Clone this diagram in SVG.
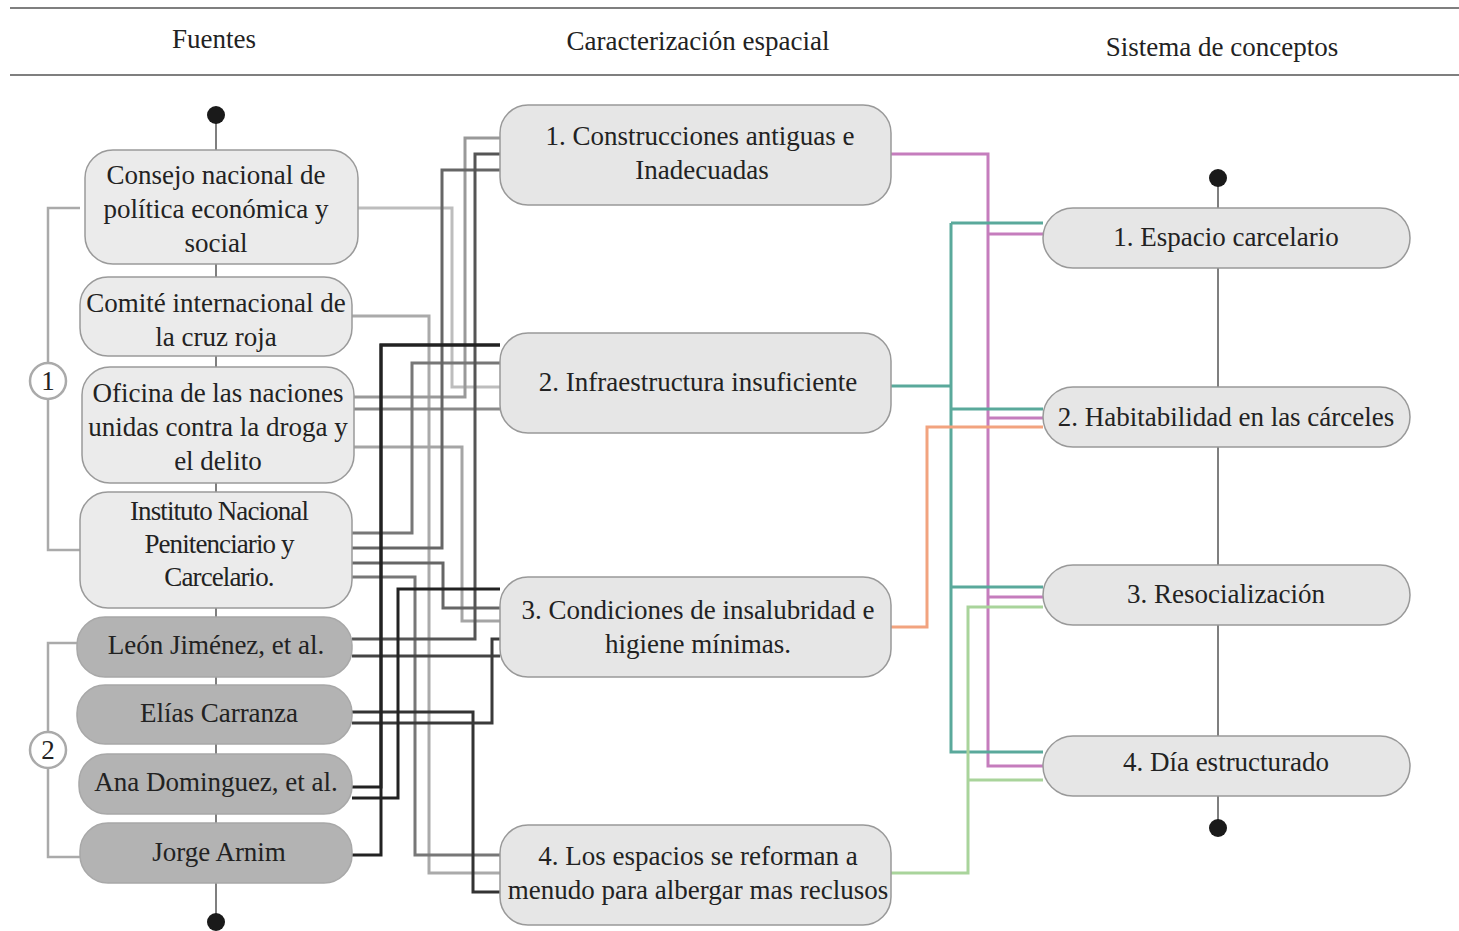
<svg xmlns="http://www.w3.org/2000/svg" width="1459" height="931" viewBox="0 0 1459 931">
<style>
text{font-family:'Liberation Serif','DejaVu Serif',serif;fill:#222;text-anchor:middle}
.h{font-size:27px}
.t{font-size:27px}
.lt{fill:#ebebeb;stroke:#9a9a9a;stroke-width:1.5}
.dk{fill:#b3b3b3;stroke:#a8a8a8;stroke-width:1.5}
.md{fill:#e6e6e6;stroke:#999;stroke-width:1.5}
.c path{fill:none;stroke-width:3}
.br{fill:none;stroke:#aaa;stroke-width:2.5}
</style>
<rect width="1459" height="931" fill="#fff"/>
<g font-family="Liberation Serif, serif">
<g id="header">
<line x1="10" y1="8" x2="1459" y2="8" stroke="#555" stroke-width="1.5"/>
<line x1="10" y1="75" x2="1459" y2="75" stroke="#555" stroke-width="1.5"/>
<text class="h" x="214" y="48">Fuentes</text>
<text class="h" x="698" y="50">Caracterización espacial</text>
<text class="h" x="1222" y="56">Sistema de conceptos</text>
</g>
<g id="spines" stroke="#555" stroke-width="1.5">
<line x1="216" y1="115" x2="216" y2="922"/>
<line x1="1218" y1="178" x2="1218" y2="828"/>
<circle cx="216" cy="115" r="9" fill="#1a1a1a" stroke="none"/>
<circle cx="216" cy="922" r="9" fill="#1a1a1a" stroke="none"/>
<circle cx="1218" cy="178" r="9" fill="#1a1a1a" stroke="none"/>
<circle cx="1218" cy="828" r="9" fill="#1a1a1a" stroke="none"/>
</g>
<g id="group1">
<path class="br" d="M80,208 H48 V363 M48,399 V550 H80"/>
<circle cx="48" cy="381" r="18" fill="#fff" stroke="#aaa" stroke-width="2.5"/>
<text class="t" x="48" y="390">1</text>
</g>
<g id="group2">
<path class="br" d="M77,643 H48 V732 M48,768 V857 H80"/>
<circle cx="48" cy="750" r="18" fill="#fff" stroke="#aaa" stroke-width="2.5"/>
<text class="t" x="48" y="759">2</text>
</g>
<g id="connectors" class="c">
<path stroke="#bdbdbd" stroke-width="2" d="M358,208 H452 V387 H500"/>
<path stroke="#aaa" stroke-width="2.5" d="M352,316 H429 V873 H500"/>
<path stroke="#999" d="M354,397 H465 V138 H500"/>
<path stroke="#8a8a8a" d="M354,409 H500"/>
<path stroke="#a5a5a5" stroke-width="2.5" d="M354,447 H462 V621 H500"/>
<path stroke="#777" d="M352,533 H412 V363 H500"/>
<path stroke="#666" d="M352,548 H442 V170 H500"/>
<path stroke="#666" d="M352,563 H443 V608 H500"/>
<path stroke="#777" d="M352,577 H415 V855 H500"/>
<path stroke="#555" d="M352,639 H475 V154 H500"/>
<path stroke="#444" d="M352,656 H500"/>
<path stroke="#333" d="M352,712 H473 V892 H500"/>
<path stroke="#3a3a3a" d="M352,723 H492 V639 H500"/>
<path stroke="#222" d="M352,787 H381 V345 H500"/>
<path stroke="#222" d="M352,798 H398 V589 H500"/>
<path stroke="#222" d="M352,855 H381 V345 H500"/>
<path stroke="#c57dbd" d="M891,154 H988 V766 H1043 M988,234 H1043 M988,418 H1043 M988,597 H1043"/>
<path stroke="#5aa99b" d="M891,386 H951 M951,223 V752 H1043 M951,223 H1043 M951,409 H1043 M951,587 H1043"/>
<path stroke="#f2a37f" d="M891,627 H927 V427 H1043"/>
<path stroke="#a9d49b" d="M891,873 H968 V607 H1043 M968,780 H1043"/>
</g>
<g id="n-consejo"><rect class="lt" x="85" y="150" width="273" height="114" rx="28"/>
<text class="t" x="216" y="184">Consejo nacional de</text><text class="t" x="216" y="218">política económica y</text><text class="t" x="216" y="252">social</text></g>
<g id="n-comite"><rect class="lt" x="80" y="277" width="272" height="79" rx="28"/>
<text class="t" x="216" y="312">Comité internacional de</text><text class="t" x="216" y="346">la cruz roja</text></g>
<g id="n-oficina"><rect class="lt" x="82" y="367" width="272" height="116" rx="28"/>
<text class="t" x="218" y="402">Oficina de las naciones</text><text class="t" x="218" y="436">unidas contra la droga y</text><text class="t" x="218" y="470">el delito</text></g>
<g id="n-inpec"><rect class="lt" x="80" y="492" width="272" height="116" rx="28"/>
<text class="t" x="219" y="520" letter-spacing="-0.9">Instituto Nacional</text><text class="t" x="219" y="553" letter-spacing="-0.9">Penitenciario y</text><text class="t" x="219" y="586" letter-spacing="-0.9">Carcelario.</text></g>
<g id="n-leon"><rect class="dk" x="77" y="617" width="275" height="60" rx="28"/>
<text class="t" x="216" y="654">León Jiménez, et al.</text></g>
<g id="n-elias"><rect class="dk" x="77" y="685" width="275" height="59" rx="28"/>
<text class="t" x="219" y="722">Elías Carranza</text></g>
<g id="n-ana"><rect class="dk" x="79" y="754" width="273" height="60" rx="28"/>
<text class="t" x="216" y="791">Ana Dominguez, et al.</text></g>
<g id="n-jorge"><rect class="dk" x="80" y="823" width="272" height="60" rx="28"/>
<text class="t" x="219" y="861">Jorge Arnim</text></g>
<g id="n-construcciones"><rect class="md" x="500" y="105" width="391" height="100" rx="28"/>
<text class="t" x="700" y="145">1. Construcciones antiguas e</text><text class="t" x="702" y="179">Inadecuadas</text></g>
<g id="n-infraestructura"><rect class="md" x="500" y="333" width="391" height="100" rx="28"/>
<text class="t" x="698" y="391">2. Infraestructura insuficiente</text></g>
<g id="n-condiciones"><rect class="md" x="500" y="577" width="391" height="100" rx="28"/>
<text class="t" x="698" y="619">3. Condiciones de insalubridad e</text><text class="t" x="698" y="653">higiene mínimas.</text></g>
<g id="n-espacios"><rect class="md" x="500" y="825" width="391" height="100" rx="28"/>
<text class="t" x="698" y="865">4. Los espacios se reforman a</text><text class="t" x="698" y="899">menudo para albergar mas reclusos</text></g>
<g id="n-espacio"><rect class="md" x="1043" y="208" width="367" height="60" rx="30"/>
<text class="t" x="1226" y="246">1. Espacio carcelario</text></g>
<g id="n-habitabilidad"><rect class="md" x="1043" y="387" width="367" height="60" rx="30"/>
<text class="t" x="1226" y="426">2. Habitabilidad en las cárceles</text></g>
<g id="n-resocializacion"><rect class="md" x="1043" y="565" width="367" height="60" rx="30"/>
<text class="t" x="1226" y="603">3. Resocialización</text></g>
<g id="n-dia"><rect class="md" x="1043" y="736" width="367" height="60" rx="30"/>
<text class="t" x="1226" y="771">4. Día estructurado</text></g>
</g>
</svg>
